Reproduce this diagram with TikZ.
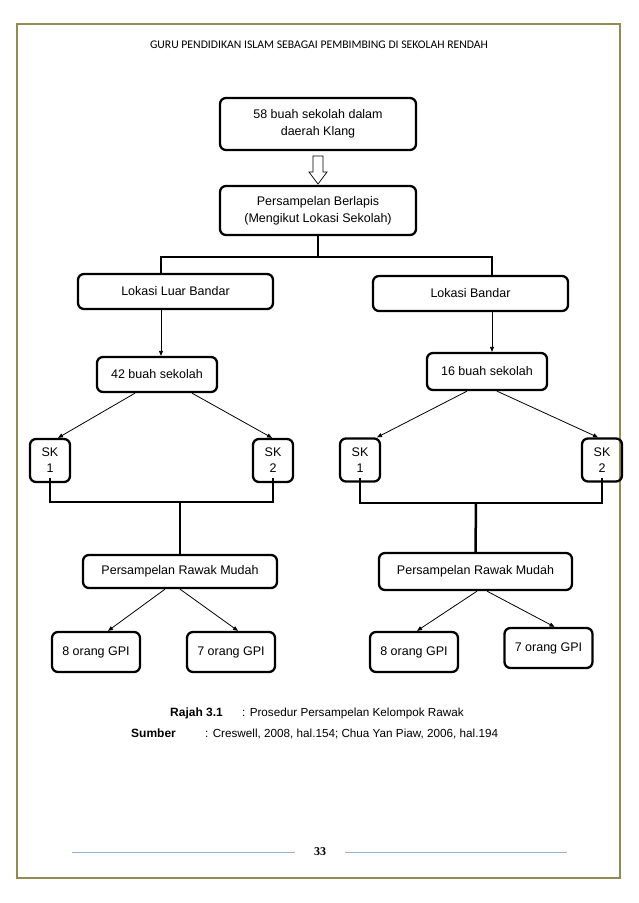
\documentclass[tikz,border=0pt]{standalone}
\usepackage{fontspec}
\setmainfont{Liberation Sans}
\newfontfamily\headfont{Carlito}
\newfontfamily\pagefont{Liberation Serif}
\usetikzlibrary{arrows.meta, positioning, calc}
\definecolor{mFrame}{HTML}{948A54}
\definecolor{mRule}{HTML}{95B3D7}

\tikzset{
  box/.style={draw, line width=2.3pt, rounded corners=6pt, align=center, inner sep=0pt,
    font=\fontsize{12.5}{17}\selectfont},
  skbox/.style={box, minimum width=40pt, minimum height=43pt, font=\fontsize{12.5}{16}\selectfont},
  gpibox/.style={box, minimum width=88pt, minimum height=40pt},
  bar/.style={line width=2.5pt},
  link/.style={line width=0.8pt, -{Triangle[length=5pt,width=4pt]}},
}

\begin{document}
\begin{tikzpicture}[x=1pt, y=-1pt]
    \useasboundingbox (0,0) rectangle (638,903);
    \fill[white] (0,0) rectangle (638,903);
    \draw[mFrame, line width=2.5pt] (17,24) rectangle (620,878);
    \node (head) at (319,45) {\headfont\fontsize{11.7}{13}\selectfont GURU PENDIDIKAN ISLAM SEBAGAI PEMBIMBING DI SEKOLAH RENDAH};

    % top of the chart
    \node[box, minimum width=196pt, minimum height=52pt] (klang) at (318,124) {58 buah sekolah dalam\\daerah Klang};
    \node[box, minimum width=196pt, minimum height=49pt] (berlapis) at (318,210.5) {Persampelan Berlapis\\(Mengikut Lokasi Sekolah)};
    \coordinate (tip) at (318,184);
    \draw[line width=0.7pt] (tip) -- ++(-9,-12) -- ++(4,0) -- ++(0,-16) -- ++(10,0) -- ++(0,16) -- ++(4,0) -- cycle;

    % two locations
    \node[box, minimum width=195pt, minimum height=35pt] (luar) at (175.5,291.5) {Lokasi Luar Bandar};
    \node[box, minimum width=195pt, minimum height=35pt] (bandar) at (470.5,293.5) {Lokasi Bandar};
    \coordinate (splitL) at (161,257);
    \coordinate (splitR) at (492,257);
    \draw[bar] (berlapis.south) -- (berlapis.south |- splitL);
    \draw[bar] (luar.north -| splitL) -- (splitL) -- (splitR) -- (bandar.north -| splitR);

    \node[box, minimum width=120pt, minimum height=35pt] (s42) at (157,374.5) {42 buah sekolah};
    \node[box, minimum width=120pt, minimum height=37pt] (s16) at (487,371.5) {16 buah sekolah};
    \draw[link] (luar.south -| splitL) -- (s42.north -| splitL);
    \draw[link] (bandar.south -| splitR) -- (s16.north -| splitR);

    % schools
    \node[skbox] (skLa) at (50,460.5) {SK\\1};
    \node[skbox] (skLb) at (273,460.5) {SK\\2};
    \node[skbox] (skRa) at (360,460) {SK\\1};
    \node[skbox] (skRb) at (602,460) {SK\\2};
    \draw[link] ([xshift=-22pt]s42.south) -- ([xshift=8pt]skLa.north);
    \draw[link] ([xshift=35pt]s42.south) -- ([xshift=-1pt]skLb.north);
    \draw[link] ([xshift=-20pt]s16.south) -- ([xshift=17pt]skRa.north);
    \draw[link] ([xshift=10pt]s16.south) -- ([xshift=-4pt]skRb.north);

    \node[box, minimum width=194pt, minimum height=33pt] (rawakL) at (180,571.5) {Persampelan Rawak Mudah};
    \node[box, minimum width=193pt, minimum height=37pt] (rawakR) at (475.5,571.5) {Persampelan Rawak Mudah};
    \coordinate (joinL) at (180,502);
    \coordinate (joinR) at (476,503);
    \draw[bar] ([yshift=5pt]skLa.south) -- (skLa.south |- joinL) -- (skLb.south |- joinL) -- ([yshift=5pt]skLb.south);
    \draw[bar] (joinL) -- (rawakL.north);
    \draw[bar] ([yshift=5pt]skRa.south) -- (skRa.south |- joinR) -- (skRb.south |- joinR) -- ([yshift=5pt]skRb.south);
    \draw[bar] (joinR) -- (rawakR.north);

    % teachers
    \node[gpibox] (gpiLa) at (96,652) {8 orang GPI};
    \node[gpibox] (gpiLb) at (231,652) {7 orang GPI};
    \node[gpibox] (gpiRa) at (414,652) {8 orang GPI};
    \node[gpibox] (gpiRb) at (548.5,648) {7 orang GPI};
    \draw[link] ([xshift=-15pt]rawakL.south) -- ([xshift=12pt]gpiLa.north);
    \draw[link] (rawakL.south) -- ([xshift=7pt]gpiLb.north);
    \draw[link] ([xshift=1.5pt]rawakR.south) -- ([xshift=3pt]gpiRa.north);
    \draw[link] ([xshift=11.5pt]rawakR.south) -- ([xshift=6pt]gpiRb.north);

    % caption
    \node[anchor=base west, inner sep=0pt] (rajah) at (170,716) {\fontsize{12}{14}\selectfont\bfseries Rajah 3.1};
    \node[anchor=base west, inner sep=0pt] (rajahtxt) at (242,716) {\fontsize{11.7}{14}\selectfont : Prosedur Persampelan Kelompok Rawak};
    \node[anchor=base west, inner sep=0pt] (sumber) at (131,737) {\fontsize{12}{14}\selectfont\bfseries Sumber};
    \node[anchor=base west, inner sep=0pt] (sumbertxt) at (205,737) {\fontsize{11.7}{14}\selectfont : Creswell, 2008, hal.154; Chua Yan Piaw, 2006, hal.194};

    % footer
    \node (page) at (320,852) {\pagefont\fontsize{12}{14}\selectfont\bfseries 33};
    \draw[mRule, line width=0.8pt] (72,852) -- (295,852);
    \draw[mRule, line width=0.8pt] (345,852) -- (567,852);
  \end{tikzpicture}
\end{document}
